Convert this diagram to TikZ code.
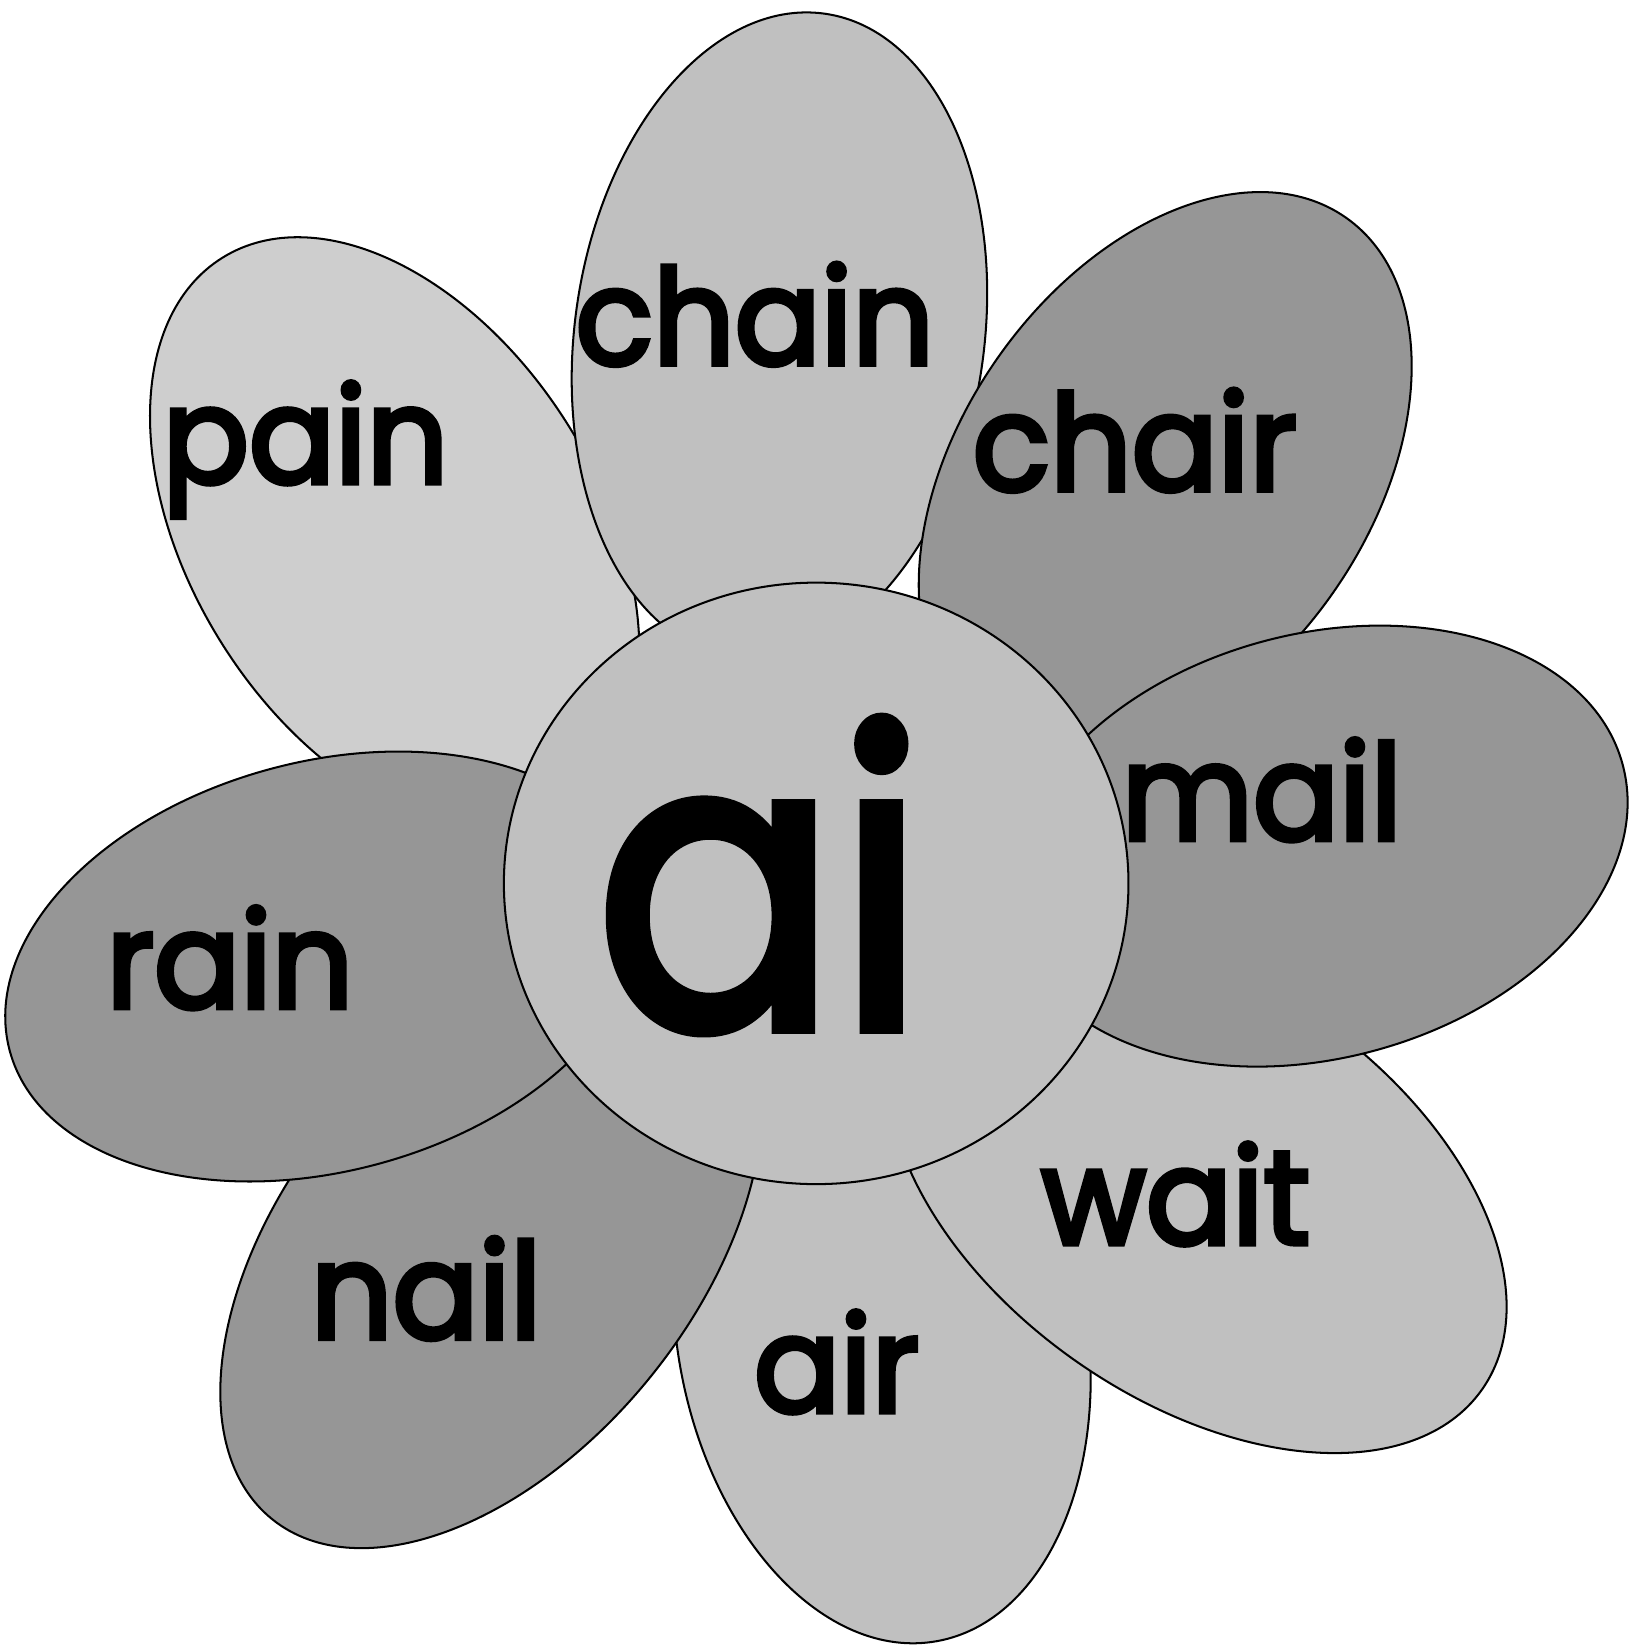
\documentclass[tikz,border=0pt]{standalone}
\usepackage{graphicx}
\usepackage{fontspec}
\setmainfont{Poppins}
\newfontfamily\petalfont{Poppins}[FakeBold=4]
\newfontfamily\centrefont{Poppins}[FakeBold=3]
\definecolor{petalL}{RGB}{206,206,206}
\definecolor{petalM}{RGB}{192,192,192}
\definecolor{petalD}{RGB}{150,150,150}
\newcommand{\wordtext}[1]{\scalebox{0.96}[1]{#1}}
\begin{document}
\begin{tikzpicture}[x=0.01cm,y=0.01cm,
  petal/.style={draw=black, line width=0.55pt},
  word/.style={anchor=base, inner sep=0pt, font=\fontsize{36}{40}\petalfont},
]
\useasboundingbox (0,-1568) rectangle (1555,0);
% petals, from the lowest to the highest
\draw[petal, fill=petalL, rotate around={-58:(376,-508.5)}] (376,-508.5) ellipse [x radius=310, y radius=195];
\draw[petal, fill=petalM, rotate around={100:(840,-1268)}] (840,-1268) ellipse [x radius=300, y radius=195];
\draw[petal, fill=petalM, rotate around={82:(742.5,-320)}] (742.5,-320) ellipse [x radius=310, y radius=195];
\draw[petal, fill=petalD, rotate around={55:(1110,-453)}] (1110,-453) ellipse [x radius=300, y radius=195];
\draw[petal, fill=petalM, rotate around={-35:(1140,-1133)}] (1140,-1133) ellipse [x radius=332, y radius=200];
\draw[petal, fill=petalD, rotate around={51:(468,-1189)}] (468,-1189) ellipse [x radius=332, y radius=195];
\draw[petal, fill=petalD, rotate around={15:(1256,-806)}] (1256,-806) ellipse [x radius=300, y radius=202];
\draw[petal, fill=petalD, rotate around={15:(308.7,-920.7)}] (308.7,-920.7) ellipse [x radius=310, y radius=195];
% centre
\draw[petal, fill=petalM] (777.5,-841.5) ellipse [x radius=297.5, y radius=286.5];
% words
\node[word] (pain) at (291,-460) {\wordtext{pain}};
\node[word] (chain) at (719,-347) {\wordtext{chain}};
\node[word] (chair) at (1081,-467) {\wordtext{chair}};
\node[word] (mail) at (1202,-800) {\wordtext{mail}};
\node[word] (rain) at (219,-960) {\wordtext{rain}};
\node[word] (nail) at (406,-1275) {\wordtext{nail}};
\node[word] (air) at (797,-1345) {\wordtext{air}};
\node[word] (wait) at (1120,-1185) {\wordtext{wait}};
\node[anchor=base, inner sep=0pt, font=\fontsize{110}{120}\centrefont] (ai) at (724.5,-979) {\scalebox{0.88}[1]{ai}};
\end{tikzpicture}
\end{document}
